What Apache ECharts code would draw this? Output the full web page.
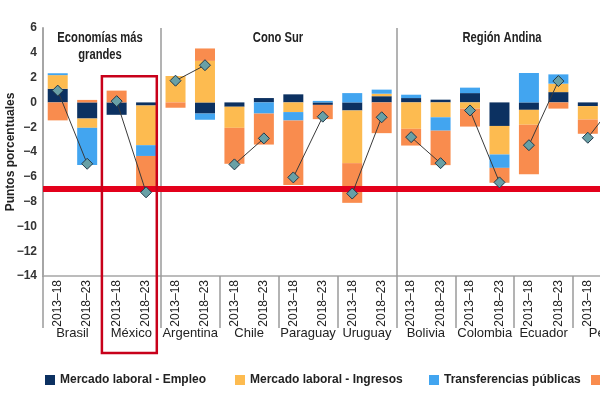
<!DOCTYPE html>
<html>
<head>
<meta charset="utf-8">
<script src="https://cdn.jsdelivr.net/npm/echarts@6/dist/echarts.min.js"></script>
<style>
  html, body { margin: 0; padding: 0; background: #fff; }
  #chart { width: 600px; height: 401px; }
</style>
</head>
<body>
<div id="chart"></div>
<script>
var FONT = "'Liberation Sans', Arial, sans-serif";

// datos
var paises = ['Brasil', 'México', 'Argentina', 'Chile', 'Paraguay', 'Uruguay', 'Bolivia', 'Colombia', 'Ecuador', 'Perú'];
var periodos = ['2013–18', '2018–23'];
var grupos = ['Economías más\ngrandes', 'Cono Sur', 'Región Andina'];
var paisesPorGrupo = [2, 4, 4];

var nombres = ['Mercado laboral - Empleo', 'Mercado laboral - Ingresos', 'Transferencias públicas', 'Otros ingresos'];
var colores = ['#0c3161', '#fdbb50', '#42a5f0', '#f98c4e'];

// un valor por barra: pais x periodo
var empleo         = [1.1, -1.3, -1.0, -0.25, 0, -0.9, -0.35, 0.35, 0.65, -0.2, -0.65, 0.5, 0.35, 0.22, 0.75, -1.9, -0.6, 0.83, -0.3, 0.5];
var ingresos       = [1.1, -0.75, 0, -3.2, 2.13, 3.35, -1.7, 0, -0.78, 0, -4.25, 0.2, -2.13, -1.2, -0.5, -2.3, -1.2, 0.68, -1.08, -0.2];
var transferencias = [0.15, -3.0, 0, -0.87, 0, -0.5, 0, -0.9, -0.68, 0.12, 0.75, 0.33, 0.27, -1.08, 0.44, -1.08, 2.37, 0.75, 0, 0.2];
var otros          = [-1.45, 0.2, 0.95, -2.9, -0.43, 1.0, -2.9, -2.5, -5.2, -1.15, -3.2, -2.48, -1.35, -2.78, -1.45, -1.2, -4.0, -0.5, -1.15, -0.3];
var total          = [0.95, -4.95, 0.1, -7.25, 1.75, 3.0, -5.0, -2.9, -6.05, -1.15, -7.35, -1.2, -2.8, -4.9, -0.65, -6.45, -3.45, 1.72, -2.85, 0.2];

var umbral = -7;

var myChart = echarts.init(document.getElementById('chart'));

var etiquetasPeriodo = [];
paises.forEach(function () { periodos.forEach(function (p) { etiquetasPeriodo.push(p); }); });
var nBarras = etiquetasPeriodo.length;

var valores = [empleo, ingresos, transferencias, otros];
var series = valores.map(function (v, i) {
    return {
        name: nombres[i],
        type: 'bar',
        stack: 'total',
        barWidth: 20,
        itemStyle: { color: colores[i] },
        data: v
    };
});

// lineas de total, una serie para paises pares y otra para impares (asi no se unen entre paises)
[0, 1].forEach(function (par) {
    series.push({
        name: 'Total',
        type: 'line',
        data: total.map(function (v, i) {
            return Math.floor(i / 2) % 2 === par ? v : null;
        }),
        connectNulls: false,
        symbol: 'diamond',
        symbolSize: 11,
        lineStyle: { color: '#3a3a3a', width: 1 },
        itemStyle: { color: '#68a0a6', borderColor: '#22394a', borderWidth: 1 },
        z: 5
    });
});

// separadores de grupo y linea roja
var limites = [];
var acum = 0;
paisesPorGrupo.slice(0, -1).forEach(function (n) { acum += n * periodos.length; limites.push({ xAxis: acum }); });

series.push({
    type: 'scatter',
    xAxisIndex: 2,
    data: [],
    silent: true,
    markLine: {
        silent: true,
        symbol: 'none',
        label: { show: false },
        lineStyle: { color: '#9a9a9a', width: 1.5, type: 'solid' },
        data: limites
    },
    z: 1
});
series.push({
    type: 'scatter',
    xAxisIndex: 2,
    data: [],
    silent: true,
    markLine: {
        silent: true,
        symbol: 'none',
        label: { show: false },
        lineStyle: { color: '#e3001b', width: 6, type: 'solid' },
        data: [{ yAxis: umbral }]
    },
    z: 20
});

var legendLeft = [40, 230, 424, 586];

var option = {
    animation: false,
    textStyle: { fontFamily: FONT },
    // el grafico original esta recortado a la derecha
    grid: { left: 43, top: 28, width: 589, height: 248, outerBoundsMode: 'none', containLabel: false },
    legend: nombres.map(function (n, i) {
        return {
            data: [n],
            left: legendLeft[i],
            top: 369,
            icon: 'rect',
            itemWidth: 10,
            itemHeight: 10,
            selectedMode: false,
            textStyle: { fontFamily: FONT, fontSize: 12, fontWeight: 'bold', color: '#222' }
        };
    }),
    xAxis: [
        {
            type: 'category',
            data: etiquetasPeriodo,
            axisLine: { onZero: false, lineStyle: { color: '#a6a6a6', width: 1.5 } },
            axisTick: { show: false },
            axisLabel: {
                interval: 0, rotate: 90, margin: 4,
                fontFamily: FONT, fontSize: 12, color: '#222'
            }
        },
        {
            type: 'category',
            data: paises,
            position: 'bottom',
            axisLine: { show: false, onZero: false },
            axisTick: { show: true, interval: 0, length: 52, lineStyle: { color: '#9a9a9a', width: 1.5 } },
            axisLabel: { interval: 0, margin: 51, fontFamily: FONT, fontSize: 13, color: '#222' }
        },
        {
            type: 'value',
            min: 0,
            max: nBarras,
            show: false
        }
    ],
    yAxis: {
        type: 'value',
        min: -14,
        max: 6,
        interval: 2,
        name: 'Puntos porcentuales',
        nameLocation: 'middle',
        nameGap: 26,
        nameMoveOverlap: false,
        nameTextStyle: { fontFamily: FONT, fontSize: 12, fontWeight: 'bold', color: '#222' },
        axisLine: { show: true, lineStyle: { color: '#a6a6a6', width: 2 } },
        axisTick: { show: false },
        splitLine: { show: false },
        axisLabel: {
            margin: 6,
            fontFamily: FONT, fontSize: 12, fontWeight: 'bold', color: '#333',
            formatter: function (v) { return String(v).replace('-', '−'); }
        }
    },
    series: series
};

myChart.setOption(option);

// titulos de grupo y recuadro de México
var tituloX = [100, 278, 502];
var graficos = grupos.map(function (g, i) {
    return {
        type: 'text',
        x: tituloX[i],
        y: 30,
        scaleX: 0.8,
        z: 30,
        style: {
            text: g,
            textAlign: 'center',
            textVerticalAlign: 'top',
            font: 'bold 14px ' + FONT,
            lineHeight: 17,
            fill: '#222'
        }
    };
});

var iMex = paises.indexOf('México') * periodos.length;
var x0 = myChart.convertToPixel({ xAxisIndex: 2 }, iMex);
var x1 = myChart.convertToPixel({ xAxisIndex: 2 }, iMex + periodos.length) - 4;
var y0 = myChart.convertToPixel({ yAxisIndex: 0 }, 2.1);
graficos.push({
    type: 'rect',
    z: 30,
    shape: { x: x0, y: y0, width: x1 - x0, height: 353 - y0 },
    style: { fill: 'none', stroke: '#c8001a', lineWidth: 2.5 }
});

myChart.setOption({ graphic: graficos });
</script>
</body>
</html>
